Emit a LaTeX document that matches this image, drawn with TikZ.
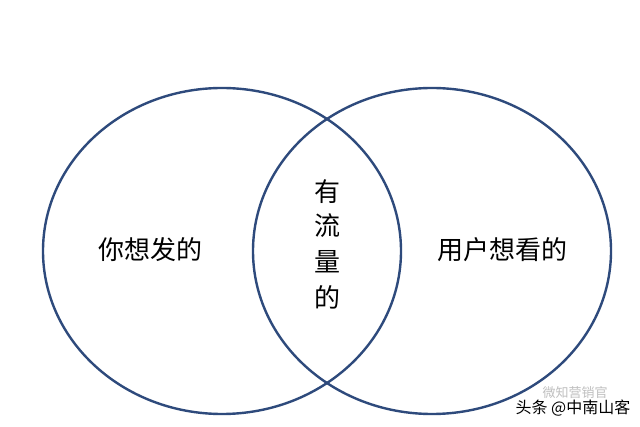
\documentclass[tikz,border=0pt]{standalone}
\usepackage{fontspec}
\newfontfamily\cjk{Noto Sans CJK SC}
\definecolor{ring}{HTML}{2E4A7C}
\begin{document}
\begin{tikzpicture}[x=1pt,y=-1pt,
  ringstyle/.style={draw=ring,line width=2.4pt},
  lbl/.style={font=\cjk\fontsize{26}{30}\selectfont,inner sep=0pt}]
\useasboundingbox[fill=white] (0,0) rectangle (640,427);
\draw[ringstyle] (222,251) ellipse [x radius=179, y radius=163];
\draw[ringstyle] (432,251) ellipse [x radius=179, y radius=163];
\node[lbl] (a) at (150,250) {你想发的};
\node[lbl] (b) at (502,250) {用户想看的};
\node[lbl] (c1) at (327,192) {有};
\node[lbl] (c2) at (327,226) {流};
\node[lbl] (c3) at (327,262) {量};
\node[lbl] (c4) at (327,297) {的};
\node[font=\cjk\fontsize{13}{15}\selectfont,text=black!25,inner sep=0pt] (w1) at (575,393) {微知营销官};
\node[font=\cjk\fontsize{16}{18}\selectfont,inner sep=0pt] (w2) at (573,408) {头条 @中南山客};
\end{tikzpicture}
\end{document}
